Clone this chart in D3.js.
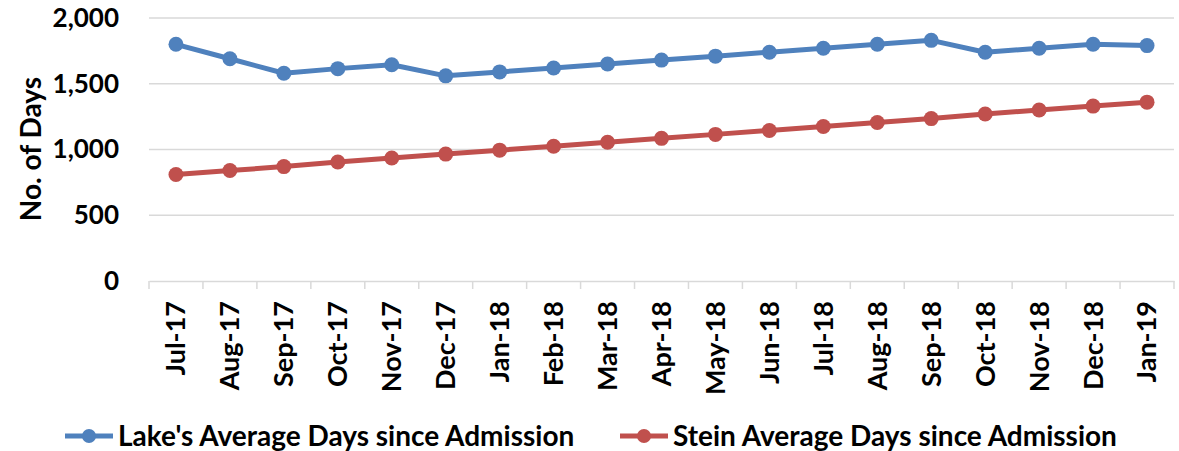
<!DOCTYPE html>
<html>
<head>
<meta charset="utf-8">
<script src="https://cdn.jsdelivr.net/npm/d3@7"></script>
<style>
  body { margin: 0; background: #fff; }
  svg { font-family: Lato, "Open Sans", sans-serif; font-weight: bold; }
</style>
</head>
<body>
<svg class="chart" width="1179" height="451"></svg>
<script>
// data
const months = ["Jul-17", "Aug-17", "Sep-17", "Oct-17", "Nov-17", "Dec-17", "Jan-18", "Feb-18", "Mar-18",
  "Apr-18", "May-18", "Jun-18", "Jul-18", "Aug-18", "Sep-18", "Oct-18", "Nov-18", "Dec-18", "Jan-19"];
const lakeDays = [1800, 1690, 1580, 1615, 1645, 1560, 1590, 1620, 1650, 1680, 1710, 1740, 1770, 1800, 1830, 1740, 1770, 1800, 1790];
const steinDays = [810, 840, 870, 905, 935, 965, 995, 1025, 1055, 1085, 1115, 1145, 1175, 1205, 1235, 1270, 1300, 1330, 1360];
const yTicks = [0, 500, 1000, 1500, 2000];

const series = [
  { name: "Lake's Average Days since Admission", values: lakeDays, color: "#4F81BD" },
  { name: "Stein Average Days since Admission", values: steinDays, color: "#C0504D" },
];

// config
const plotLeft = 149, plotRight = 1174, plotTop = 18, plotBottom = 281;

const svg = d3.select("svg.chart");

const x = d3.scaleBand().domain(months).range([plotLeft, plotRight]);
const y = d3.scaleLinear().domain([0, 2000]).range([plotBottom, plotTop]);

// gridlines
svg.append("g")
  .selectAll("line")
  .data(yTicks.slice(1))
  .enter()
  .append("line")
  .attr("x1", plotLeft).attr("x2", plotRight)
  .attr("y1", d => y(d)).attr("y2", d => y(d))
  .attr("stroke", "#d9d9d9")
  .attr("stroke-width", 1.5);

// y axis labels
const yAxis = d3.axisLeft(y).tickValues(yTicks).tickSize(0).tickPadding(30).tickFormat(d3.format(","));
svg.append("g")
  .attr("transform", translate(plotLeft, 0))
  .call(yAxis)
  .call(g => g.select(".domain").remove())
  .selectAll("text")
  .attr("font-size", 26)
  .attr("font-family", "Lato, sans-serif")
  .attr("font-weight", "bold")
  .attr("fill", "#000");

// x axis
const xAxis = d3.axisBottom(x).tickSize(0).tickPadding(0);
const gx = svg.append("g")
  .attr("transform", translate(0, plotBottom))
  .call(xAxis);
gx.select(".domain").attr("stroke", "#d9d9d9").attr("stroke-width", 1.5);
gx.selectAll(".tick text")
  .attr("font-size", 27)
  .attr("font-family", "Lato, sans-serif")
  .attr("font-weight", "bold")
  .attr("fill", "#000")
  .attr("text-anchor", "end")
  .attr("y", 0)
  .attr("dy", "0.35em")
  .attr("transform", "translate(0,20) rotate(-90)");

// x tick marks at band edges
gx.append("g")
  .selectAll("line")
  .data(months.concat([null]))
  .enter()
  .append("line")
  .attr("x1", (d, i) => plotLeft + i * x.step())
  .attr("x2", (d, i) => plotLeft + i * x.step())
  .attr("y1", 0).attr("y2", 8)
  .attr("stroke", "#d9d9d9")
  .attr("stroke-width", 1.5);

// y title
svg.append("text")
  .attr("transform", translate(31, 149) + " rotate(-90)")
  .attr("text-anchor", "middle")
  .attr("dy", "0.35em")
  .attr("font-size", 28)
  .text("No. of Days");

// lines
const line = d3.line()
  .x((d, i) => x(months[i]) + x.bandwidth() / 2)
  .y(d => y(d));

series.forEach(s => {
  const g = svg.append("g");
  g.append("path")
    .attr("d", line(s.values))
    .attr("fill", "none")
    .attr("stroke", s.color)
    .attr("stroke-width", 5)
    .attr("stroke-linejoin", "round");
  g.selectAll("circle")
    .data(s.values)
    .enter()
    .append("circle")
    .attr("cx", (d, i) => x(months[i]) + x.bandwidth() / 2)
    .attr("cy", d => y(d))
    .attr("r", 7.5)
    .attr("fill", s.color);
});

// legend
const legendX = [65, 620];
series.forEach((s, i) => {
  const g = svg.append("g").attr("transform", translate(legendX[i], 436));
  g.append("line").attr("x1", 0).attr("x2", 48).attr("y1", 0).attr("y2", 0)
    .attr("stroke", s.color).attr("stroke-width", 5);
  g.append("circle").attr("cx", 24).attr("cy", 0).attr("r", 7).attr("fill", s.color);
  g.append("text")
    .attr("x", 53)
    .attr("dy", "0.35em")
    .attr("font-size", 28)
    .text(s.name);
});

function translate(x, y) {
  return `translate(${x}, ${y})`;
}
</script>
</body>
</html>
